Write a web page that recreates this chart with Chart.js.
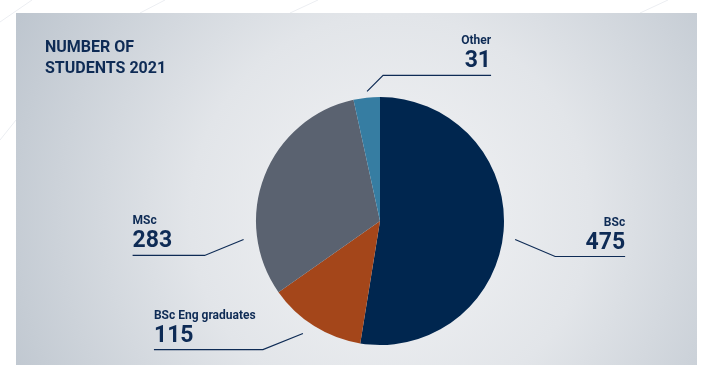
<!DOCTYPE html>
<html>
<head>
<meta charset="utf-8">
<script src="https://cdn.jsdelivr.net/npm/chart.js@4.4.1/dist/chart.umd.min.js"></script>
<style>
  html, body { margin: 0; padding: 0; background: #ffffff; }
  #wrap { position: relative; width: 701px; height: 365px; }
  canvas { display: block; }
</style>
</head>
<body>
<div id="wrap"><canvas id="c" width="701" height="365"></canvas></div>
<script>
// ---- data ----
const titleLines = ["NUMBER OF", "STUDENTS 2021"];
const categories = ["BSc", "BSc Eng graduates", "MSc", "Other"];
const students = [475, 115, 283, 31];
const sliceColors = ["#00264f", "#a4461a", "#5a6270", "#367da2"];

// ---- label layout (style only) ----
// anchorDeg: direction from pie centre (0 = right, clockwise), radiusK: multiple of radius
// elbow: offset from anchor, run: horizontal length, align: text alignment at line end
const leaderLayout = [
  { anchorDeg: 7.8,   radiusK: 1.10, elbow: [40, 17],  run: 70,   align: "right" },
  { anchorDeg: 124.4, radiusK: 1.10, elbow: [-40, 16], run: -109, align: "left" },
  { anchorDeg: 172.3, radiusK: 1.11, elbow: [-39, 16], run: -72,  align: "left" },
  { anchorDeg: 264.3, radiusK: 1.05, elbow: [16, -16], run: 108,  align: "right" }
];

const NAVY = "#0e2b55";
const FONT = "Roboto, 'Liberation Sans', sans-serif";

const panelPlugin = {
  id: "panel",
  beforeDraw(chart) {
    const ctx = chart.ctx;
    ctx.save();
    ctx.fillStyle = "#ffffff";
    ctx.fillRect(0, 0, chart.width, chart.height);
    // faint decorative lines outside the panel
    ctx.strokeStyle = "#eceef2";
    ctx.lineWidth = 1;
    [[0, 22, 32, 0], [140, 13, 165, 0], [290, 13, 318, 0], [640, 13, 668, 0], [0, 140, 16, 120]].forEach(l => {
      ctx.beginPath(); ctx.moveTo(l[0], l[1]); ctx.lineTo(l[2], l[3]); ctx.stroke();
    });
    const x0 = 16, y0 = 13, x1 = 697, y1 = 365;
    const g = ctx.createRadialGradient(390, 215, 20, 390, 215, 420);
    g.addColorStop(0, "#f1f2f4");
    g.addColorStop(0.45, "#e2e5e9");
    g.addColorStop(1, "#bec6cf");
    ctx.fillStyle = g;
    ctx.fillRect(x0, y0, x1 - x0, y1 - y0);
    ctx.restore();
  }
};

const labelPlugin = {
  id: "leaders",
  afterDatasetsDraw(chart) {
    const ctx = chart.ctx;
    const meta = chart.getDatasetMeta(0);
    const values = chart.data.datasets[0].data;
    ctx.save();
    // title
    ctx.fillStyle = NAVY;
    ctx.textAlign = "left";
    ctx.textBaseline = "alphabetic";
    ctx.font = "bold 16px " + FONT;
    titleLines.forEach((t, i) => ctx.fillText(t, 45, 52 + i * 21));

    meta.data.forEach((arc, i) => {
      const L = leaderLayout[i];
      const cx = arc.x, cy = arc.y, R = arc.outerRadius;
      const a = L.anchorDeg * Math.PI / 180;
      const sx = cx + Math.cos(a) * R * L.radiusK;
      const sy = cy + Math.sin(a) * R * L.radiusK;
      const ex = sx + L.elbow[0], ey = sy + L.elbow[1];
      const tx = ex + L.run;
      ctx.strokeStyle = NAVY;
      ctx.lineWidth = 1.2;
      ctx.beginPath();
      ctx.moveTo(sx, sy);
      ctx.lineTo(ex, ey);
      ctx.lineTo(tx, ey);
      ctx.stroke();
      ctx.fillStyle = NAVY;
      ctx.textAlign = L.align;
      ctx.font = "bold 12px " + FONT;
      ctx.fillText(chart.data.labels[i], tx, ey - 31);
      ctx.font = "bold 23px " + FONT;
      ctx.fillText(String(values[i]), tx, ey - 8);
    });
    ctx.restore();
  }
};

new Chart(document.getElementById("c"), {
  type: "pie",
  data: {
    labels: categories,
    datasets: [{
      data: students,
      backgroundColor: sliceColors,
      borderWidth: 0
    }]
  },
  options: {
    responsive: false,
    animation: false,
    layout: { padding: { top: 97, bottom: 20, left: 59, right: 0 } },
    plugins: {
      legend: { display: false },
      tooltip: { enabled: false },
      title: { display: false }
    }
  },
  plugins: [panelPlugin, labelPlugin]
});
</script>
</body>
</html>
